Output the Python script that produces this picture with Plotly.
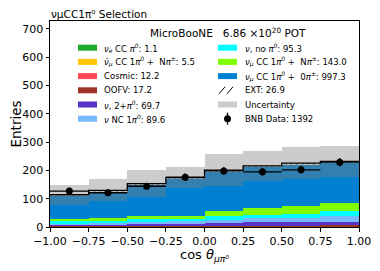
import numpy as np
import plotly.graph_objects as go

# ---------------- data ----------------
bin_edges = [-1.0, -0.75, -0.5, -0.25, 0.0, 0.25, 0.5, 0.75, 1.0]
x_ticks = [-1.0, -0.75, -0.5, -0.25, 0.0, 0.25, 0.5, 0.75, 1.0]
y_ticks = [0, 100, 200, 300, 400, 500, 600, 700]

nue_cc_pi0 = [0.1, 0.1, 0.1, 0.1, 0.2, 0.2, 0.1, 0.2]
numubar_cc = [0.5, 0.5, 0.6, 0.6, 0.7, 0.8, 0.9, 0.9]
cosmic = [1.2, 1.3, 1.4, 1.5, 1.6, 1.7, 1.7, 1.8]
oofv = [1.8, 1.9, 2.0, 2.1, 2.2, 2.3, 2.4, 2.5]
nu_2pi0 = [4.0, 4.2, 6.5, 7.0, 11.0, 12.0, 12.5, 12.5]
nu_nc_1pi0 = [6.0, 6.2, 8.5, 8.5, 10.0, 14.0, 14.4, 22.0]
nu_no_pi0 = [6.5, 6.5, 7.5, 7.5, 11.5, 12.0, 14.3, 17.5]
numu_cc_npi = [8.0, 11.5, 13.5, 13.0, 19.5, 22.5, 26.5, 28.5]
numu_cc_0pi = [83.0, 94.0, 110.0, 131.0, 141.0, 147.0, 149.0, 142.3]
ext = [2.8, 3.0, 3.2, 3.4, 3.5, 3.6, 3.7, 3.7]
mc_uncertainty = [35, 39, 47, 38, 56, 54, 56, 54]
bnb_data = [127, 121, 144, 176, 198, 195, 202, 229]

labels = [
    "<i>ν<sub>e</sub></i> CC <i>π<sup>0</sup></i>: 1.1",
    "<i>ν̄<sub>μ</sub></i> CC 1<i>π<sup>0</sup></i> +  N<i>π<sup>±</sup></i>: 5.5",
    "Cosmic: 12.2",
    "OOFV: 17.2",
    "<i>ν</i>, 2+<i>π<sup>0</sup></i>: 69.7",
    "<i>ν</i> NC 1<i>π<sup>0</sup></i>: 89.6",
    "<i>ν</i>, no <i>π<sup>0</sup></i>: 95.3",
    "<i>ν<sub>μ</sub></i> CC 1<i>π<sup>0</sup></i> +\u00a0 N<i>π<sup>±</sup></i>: 143.0",
    "<i>ν<sub>μ</sub></i> CC 1<i>π<sup>0</sup></i> +\u00a0 0<i>π<sup>±</sup></i>: 997.3",
    "EXT: 26.9",
    "Uncertainty",
    "BNB Data: 1392",
]

# ---------------- styles ----------------
colors = ["#1aab2a", "#ffc400", "#ff4a55", "#9c3324", "#5632c8",
          "#78b8ff", "#00ffff", "#80ff00", "#0080d0"]
unc_color = "rgba(128,128,128,0.4)"
FONT = "DejaVu Sans"

# page geometry (the page body has an 8px default margin)
BODY = 8
PAGE_W, PAGE_H = 380, 271
L, T = 50, 21          # plot area left/top in page pixels
PW, PH = 309, 206      # plot area size
FIG_W, FIG_H = PAGE_W - BODY, PAGE_H - BODY
ML, MT = L - BODY, T - BODY
MR, MB = FIG_W - ML - PW, FIG_H - MT - PH


def px(x):
    return (x - L) / PW


def py(y):
    return (T + PH - y) / PH


centers = [(a + b) / 2 for a, b in zip(bin_edges[:-1], bin_edges[1:])]
widths = [b - a for a, b in zip(bin_edges[:-1], bin_edges[1:])]

fig = go.Figure()

stack = [nue_cc_pi0, numubar_cc, cosmic, oofv, nu_2pi0, nu_nc_1pi0,
         nu_no_pi0, numu_cc_npi, numu_cc_0pi]
base = np.zeros(len(centers))
for vals, col in zip(stack, colors):
    fig.add_bar(x=centers, y=vals, base=base.copy(), width=widths,
                marker=dict(color=col, line=dict(width=0)),
                showlegend=False, hoverinfo="skip")
    base += np.array(vals)

# EXT hatched
fig.add_bar(x=centers, y=ext, base=base.copy(), width=widths,
            marker=dict(color="white", line=dict(width=0),
                        pattern=dict(shape="/", fgcolor="black", bgcolor="white", size=4, solidity=0.3)),
            showlegend=False, hoverinfo="skip")
base += np.array(ext)
total = base.copy()

# uncertainty band
unc = np.array(mc_uncertainty, dtype=float)
fig.add_bar(x=centers, y=2 * unc, base=total - unc, width=widths,
            marker=dict(color=unc_color, line=dict(width=0)),
            showlegend=False, hoverinfo="skip")

# total outline
fig.add_scatter(x=bin_edges, y=list(total) + [total[-1]], mode="lines",
                line=dict(color="black", width=1.3, shape="hv"),
                showlegend=False, hoverinfo="skip")

# data
fig.add_scatter(x=centers, y=bnb_data, mode="markers",
                marker=dict(color="black", size=7),
                error_y=dict(type="data", array=list(np.sqrt(bnb_data)), color="black", thickness=1.3, width=0),
                error_x=dict(type="data", array=[w / 2 for w in widths], color="black", thickness=1.3, width=0),
                showlegend=False, hoverinfo="skip")

# ---------------- manual legend ----------------
shapes = []
annotations = []
col_x = [(78, 97, 103), (218, 237, 244)]
row_y0, row_dy = 47.7, 14.2
for i, lab in enumerate(labels):
    c = i // 6
    r = i % 6
    x0, x1, xt = col_x[c]
    yc = row_y0 + r * row_dy
    if i < 9:
        shapes.append(dict(type="rect", xref="paper", yref="paper",
                           x0=px(x0), x1=px(x1), y0=py(yc + 3), y1=py(yc - 3),
                           fillcolor=colors[i], line=dict(width=0)))
    elif i == 9:
        for sx in (x0 + 1, x0 + 9):
            shapes.append(dict(type="line", xref="paper", yref="paper",
                               x0=px(sx), x1=px(sx + 6), y0=py(yc + 3.5), y1=py(yc - 3.5),
                               line=dict(color="black", width=1)))
    elif i == 10:
        shapes.append(dict(type="rect", xref="paper", yref="paper",
                           x0=px(x0), x1=px(x1), y0=py(yc + 3), y1=py(yc - 3),
                           fillcolor="#cccccc", line=dict(width=0)))
    else:
        xm = (x0 + x1) / 2
        shapes.append(dict(type="line", xref="paper", yref="paper",
                           x0=px(xm), x1=px(xm), y0=py(yc + 6), y1=py(yc - 6),
                           line=dict(color="black", width=1.3)))
        shapes.append(dict(type="circle", xref="paper", yref="paper",
                           x0=px(xm - 3.5), x1=px(xm + 3.5), y0=py(yc + 3.5), y1=py(yc - 3.5),
                           fillcolor="black", line=dict(width=0)))
    annotations.append(dict(xref="paper", yref="paper", x=px(xt), y=py(yc),
                            xanchor="left", yanchor="middle", showarrow=False, borderpad=0,
                            text=lab, font=dict(family=FONT, size=8.5, color="black")))

annotations.append(dict(xref="paper", yref="paper", x=px(149), y=py(33),
                        xanchor="left", yanchor="middle", showarrow=False, borderpad=0,
                        text="MicroBooNE\u00a0\u00a0 6.86 ×10<sup>20</sup>\u00a0POT",
                        font=dict(family=FONT, size=10.5, color="black")))
annotations.append(dict(xref="paper", yref="paper", x=0, y=1, yshift=0,
                        xanchor="left", yanchor="bottom", showarrow=False, borderpad=0,
                        text="νμCC1π⁰ Selection",
                        font=dict(family=FONT, size=10.5, color="black")))
# axis titles
annotations.append(dict(xref="paper", yref="paper", x=0.5, y=py(255),
                        xanchor="center", yanchor="middle", showarrow=False, borderpad=0,
                        text="cos <i>θ<sub>μπ⁰</sub></i>",
                        font=dict(family=FONT, size=13, color="black")))
annotations.append(dict(xref="paper", yref="paper", x=px(15.5), y=0.5,
                        xanchor="center", yanchor="middle", showarrow=False, textangle=-90,
                        borderpad=0, text="Entries",
                        font=dict(family=FONT, size=13.5, color="black")))

fig.update_layout(
    width=FIG_W, height=FIG_H,
    margin=dict(l=ML, r=MR, t=MT, b=MB, pad=0, autoexpand=False),
    barmode="overlay", bargap=0,
    paper_bgcolor="white", plot_bgcolor="white",
    font=dict(family=FONT, size=11, color="black"),
    shapes=shapes, annotations=annotations,
    showlegend=False,
)
fig.update_xaxes(range=[-1, 1], tickvals=x_ticks, tickformat=".2f", automargin=False,
                 showline=True, linecolor="black", linewidth=1, mirror=True,
                 ticks="outside", ticklen=3.5, tickcolor="black", showgrid=False, zeroline=False,
                 tickfont=dict(size=11))
fig.update_yaxes(range=[0, 728], tickvals=y_ticks, automargin=False,
                 showline=True, linecolor="black", linewidth=1, mirror=True,
                 ticks="outside", ticklen=3.5, tickcolor="black", showgrid=False, zeroline=False,
                 tickfont=dict(size=11))

fig.write_html("out.html")
